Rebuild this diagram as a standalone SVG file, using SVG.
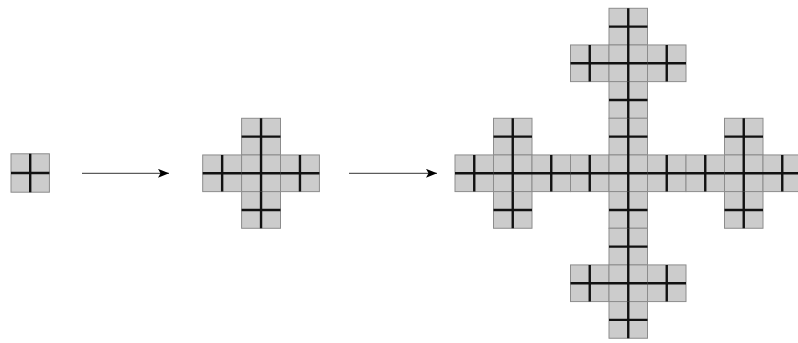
<svg xmlns="http://www.w3.org/2000/svg" xmlns:xlink="http://www.w3.org/1999/xlink" width="798" height="343" viewBox="0 0 798 343">
  <style>
    .cell { fill: #cccccc; stroke: #8c8c8c; stroke-width: 1; }
    .thick { fill: none; stroke: #111111; stroke-width: 2.4; }
    .conn { fill: none; stroke: #333333; stroke-width: 1; }
  </style>
  <defs>
    <marker id="arrow" markerUnits="userSpaceOnUse" markerWidth="12" markerHeight="10" refX="11" refY="4.5" orient="auto">
      <path d="M0,0 L11,4.5 L0,9 L2.5,4.5 Z" fill="#000000"/>
    </marker>
    <rect id="r0" width="38.4" height="38.4" class="cell"/>
    <path id="x0" d="M19.2 0V38.4M0 19.2H38.4" class="thick"/>
    <rect id="r1" width="38.9" height="36.66" class="cell"/>
    <path id="x1" d="M19.45 0V36.66M0 18.33H38.9" class="thick"/>
    <rect id="r2" width="38.5" height="36.66" class="cell"/>
    <path id="x2" d="M19.25 0V36.66M0 18.33H38.5" class="thick"/>
  </defs>
  <rect width="798" height="343" fill="#ffffff"/>

  <g id="stage0">
    <use xlink:href="#r0" x="11" y="153.8"/>
    <use xlink:href="#x0" x="11" y="153.8"/>
  </g>

  <g id="stage1">
    <use xlink:href="#r1" x="241.6" y="118.3"/>
    <use xlink:href="#r1" x="202.7" y="154.96"/>
    <use xlink:href="#r1" x="241.6" y="154.96"/>
    <use xlink:href="#r1" x="280.5" y="154.96"/>
    <use xlink:href="#r1" x="241.6" y="191.62"/>
    <use xlink:href="#x1" x="241.6" y="118.3"/>
    <use xlink:href="#x1" x="202.7" y="154.96"/>
    <use xlink:href="#x1" x="241.6" y="154.96"/>
    <use xlink:href="#x1" x="280.5" y="154.96"/>
    <use xlink:href="#x1" x="241.6" y="191.62"/>
  </g>

  <g id="stage2">
    <!-- top cross -->
    <use xlink:href="#r2" x="609" y="8.3"/>
    <use xlink:href="#r2" x="570.5" y="44.96"/>
    <use xlink:href="#r2" x="609" y="44.96"/>
    <use xlink:href="#r2" x="647.5" y="44.96"/>
    <use xlink:href="#r2" x="609" y="81.62"/>
    <!-- left cross -->
    <use xlink:href="#r2" x="493.5" y="118.28"/>
    <use xlink:href="#r2" x="455" y="154.94"/>
    <use xlink:href="#r2" x="493.5" y="154.94"/>
    <use xlink:href="#r2" x="532" y="154.94"/>
    <use xlink:href="#r2" x="493.5" y="191.6"/>
    <!-- centre cross -->
    <use xlink:href="#r2" x="609" y="118.28"/>
    <use xlink:href="#r2" x="570.5" y="154.94"/>
    <use xlink:href="#r2" x="609" y="154.94"/>
    <use xlink:href="#r2" x="647.5" y="154.94"/>
    <use xlink:href="#r2" x="609" y="191.6"/>
    <!-- right cross -->
    <use xlink:href="#r2" x="724.5" y="118.28"/>
    <use xlink:href="#r2" x="686" y="154.94"/>
    <use xlink:href="#r2" x="724.5" y="154.94"/>
    <use xlink:href="#r2" x="763" y="154.94"/>
    <use xlink:href="#r2" x="724.5" y="191.6"/>
    <!-- bottom cross -->
    <use xlink:href="#r2" x="609" y="228.26"/>
    <use xlink:href="#r2" x="570.5" y="264.92"/>
    <use xlink:href="#r2" x="609" y="264.92"/>
    <use xlink:href="#r2" x="647.5" y="264.92"/>
    <use xlink:href="#r2" x="609" y="301.58"/>

    <use xlink:href="#x2" x="609" y="8.3"/>
    <use xlink:href="#x2" x="570.5" y="44.96"/>
    <use xlink:href="#x2" x="609" y="44.96"/>
    <use xlink:href="#x2" x="647.5" y="44.96"/>
    <use xlink:href="#x2" x="609" y="81.62"/>
    <use xlink:href="#x2" x="493.5" y="118.28"/>
    <use xlink:href="#x2" x="455" y="154.94"/>
    <use xlink:href="#x2" x="493.5" y="154.94"/>
    <use xlink:href="#x2" x="532" y="154.94"/>
    <use xlink:href="#x2" x="493.5" y="191.6"/>
    <use xlink:href="#x2" x="609" y="118.28"/>
    <use xlink:href="#x2" x="570.5" y="154.94"/>
    <use xlink:href="#x2" x="609" y="154.94"/>
    <use xlink:href="#x2" x="647.5" y="154.94"/>
    <use xlink:href="#x2" x="609" y="191.6"/>
    <use xlink:href="#x2" x="724.5" y="118.28"/>
    <use xlink:href="#x2" x="686" y="154.94"/>
    <use xlink:href="#x2" x="724.5" y="154.94"/>
    <use xlink:href="#x2" x="763" y="154.94"/>
    <use xlink:href="#x2" x="724.5" y="191.6"/>
    <use xlink:href="#x2" x="609" y="228.26"/>
    <use xlink:href="#x2" x="570.5" y="264.92"/>
    <use xlink:href="#x2" x="609" y="264.92"/>
    <use xlink:href="#x2" x="647.5" y="264.92"/>
    <use xlink:href="#x2" x="609" y="301.58"/>
  </g>

  <g id="connectors">
    <line class="conn" x1="82" y1="173.3" x2="169" y2="173.3" marker-end="url(#arrow)"/>
    <line class="conn" x1="349" y1="173.3" x2="437" y2="173.3" marker-end="url(#arrow)"/>
  </g>
</svg>
